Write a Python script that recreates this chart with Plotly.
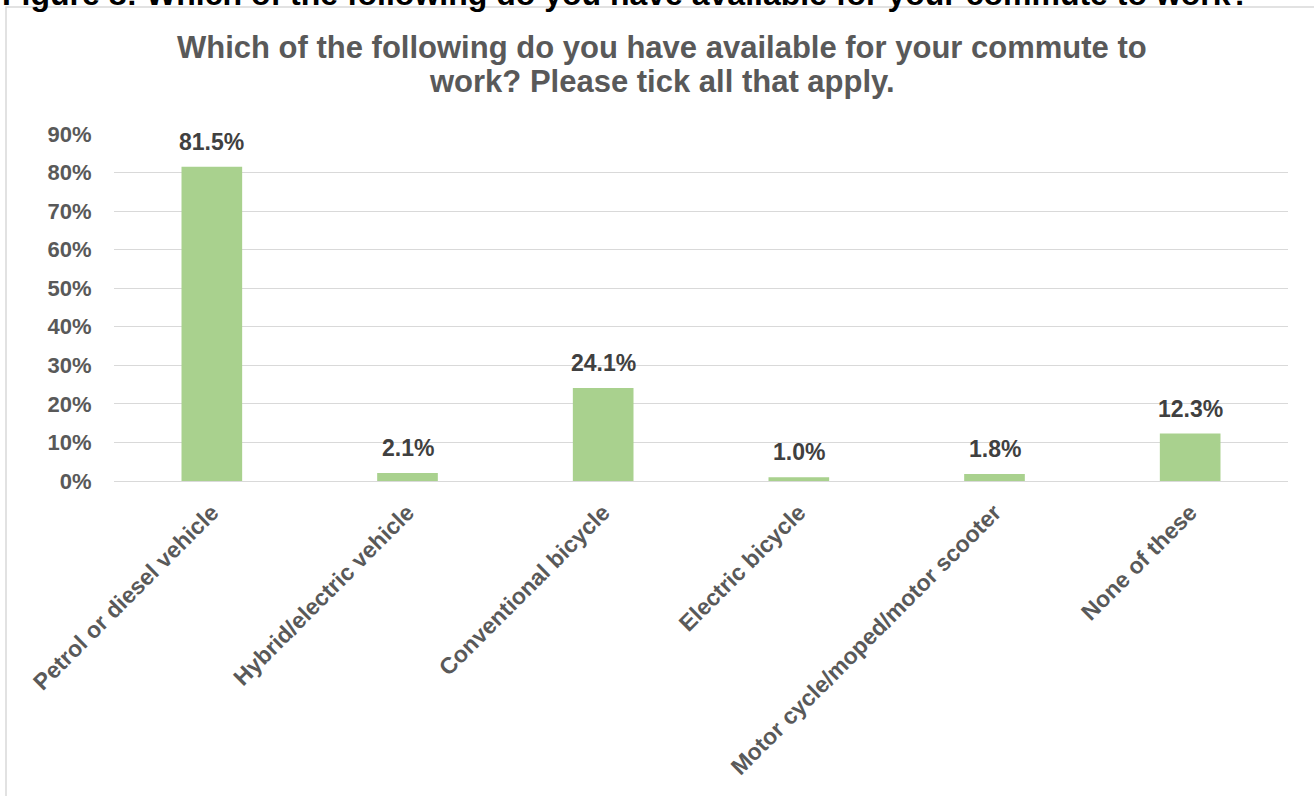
import plotly.graph_objects as go

categories = ["Petrol or diesel vehicle", "Hybrid/electric vehicle", "Conventional bicycle",
              "Electric bicycle", "Motor cycle/moped/motor scooter", "None of these"]
values = [0.815, 0.021, 0.241, 0.010, 0.018, 0.123]
value_labels = ["81.5%", "2.1%", "24.1%", "1.0%", "1.8%", "12.3%"]
title_lines = ["Which of the following do you have available for your commute to",
               "work? Please tick all that apply."]
header = "Figure 8: Which of the following do you have available for your commute to work?"

W, H = 1314, 796
L, R, T, B = 114, 26, 134, 315
pw, ph = W - L - R, H - T - B

def px(x):
    return (x - L) / pw

def py(y):
    return (H - B - y) / ph

FONT = "Liberation Sans, Arial, sans-serif"

fig = go.Figure()
fig.add_trace(go.Bar(x=categories, y=values, marker=dict(color="#A9D18E", line=dict(width=0)),
                     hoverinfo="skip"))

annotations = []
for c, v, t in zip(categories, values, value_labels):
    annotations.append(dict(x=c, y=v, xref="x", yref="y", text="<b>%s</b>" % t, showarrow=False,
                            yanchor="middle", yshift=25,
                            font=dict(family=FONT, size=23, color="#404040")))

annotations.append(dict(x=px(662), y=py(47), xref="paper", yref="paper", text="<b>%s</b>" % title_lines[0],
                        showarrow=False, xanchor="center", yanchor="middle",
                        font=dict(family=FONT, size=31, color="#595959")))
annotations.append(dict(x=px(662), y=py(81), xref="paper", yref="paper", text="<b>%s</b>" % title_lines[1],
                        showarrow=False, xanchor="center", yanchor="middle",
                        font=dict(family=FONT, size=31, color="#595959")))
annotations.append(dict(x=px(0), y=py(14), xref="paper", yref="paper", text="<b>%s</b>" % header,
                        showarrow=False, xanchor="left", yanchor="bottom",
                        font=dict(family=FONT, size=32, color="#000000")))

fig.update_layout(
    width=W, height=H,
    margin=dict(l=L, r=R, t=T, b=B, pad=0),
    paper_bgcolor="white", plot_bgcolor="white",
    showlegend=False,
    bargap=0.69,
    annotations=annotations,
    shapes=[dict(type="rect", xref="paper", yref="paper", x0=px(6), x1=px(1350), y0=py(820), y1=py(7),
                 line=dict(color="#D9D9D9", width=1.5), fillcolor="rgba(0,0,0,0)", layer="below")],
    xaxis=dict(showgrid=False, showline=True, linecolor="#D9D9D9", linewidth=1,
               tickangle=-45, ticks="outside", ticklen=8, tickcolor="rgba(0,0,0,0)",
               tickfont=dict(family=FONT, size=23, color="#595959"),
               tickprefix="<b>", ticksuffix="</b>"),
    yaxis=dict(range=[0, 0.9], dtick=0.1, tickformat=".0%", showgrid=True, gridcolor="#D9D9D9",
               gridwidth=1, zeroline=True, zerolinecolor="#D9D9D9", zerolinewidth=1,
               ticks="outside", ticklen=17, tickcolor="rgba(0,0,0,0)",
               tickfont=dict(family=FONT, size=22, color="#595959"),
               tickprefix="<b>", ticksuffix="</b>"),
)

fig.write_html("out.html")
